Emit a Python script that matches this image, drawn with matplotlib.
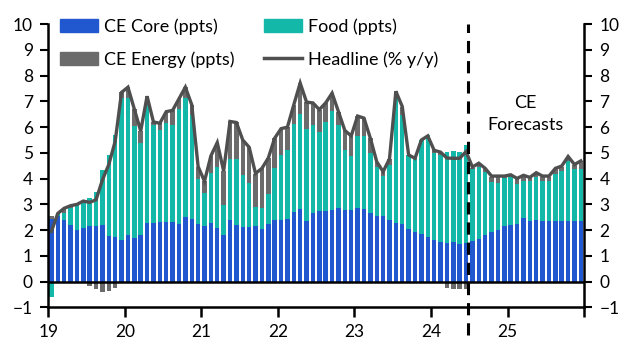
import matplotlib.pyplot as plt
from matplotlib.patches import Patch
from matplotlib.lines import Line2D
import numpy as np

plt.rcParams['font.family'] = ['Lato', 'DejaVu Sans']

# monthly, Jan 2019 - Dec 2025
year_labels = ['19', '20', '21', '22', '23', '24', '25', '']

core = [2.43, 2.56, 2.39, 2.21, 2.00, 2.08, 2.17, 2.16, 2.19, 1.78, 1.74, 1.61,
        1.80, 1.69, 1.80, 2.29, 2.29, 2.31, 2.31, 2.31, 2.23, 2.52, 2.43, 2.23,
        2.17, 2.26, 2.08, 1.80, 2.39, 2.19, 2.13, 2.13, 2.16, 2.04, 2.23, 2.39,
        2.39, 2.43, 2.70, 2.82, 2.36, 2.65, 2.73, 2.74, 2.78, 2.87, 2.78, 2.78,
        2.87, 2.82, 2.68, 2.56, 2.55, 2.39, 2.29, 2.23, 2.04, 1.94, 1.84, 1.74,
        1.61, 1.55, 1.52, 1.55, 1.48, 1.52, 1.57, 1.65, 1.83, 1.94, 2.00, 2.17,
        2.19, 2.23, 2.47, 2.35, 2.39, 2.35, 2.35, 2.35, 2.35, 2.35, 2.35, 2.35]

food = [-0.60, 0.06, 0.26, 0.67, 0.97, 1.00, 1.06, 1.31, 2.15, 3.14, 3.96, 5.52,
        5.33, 4.34, 3.60, 4.58, 3.80, 3.59, 3.85, 3.78, 4.47, 4.61, 4.05, 1.74,
        1.26, 1.95, 2.36, 1.17, 2.38, 2.58, 2.01, 1.69, 0.75, 0.83, 1.17, 2.04,
        2.53, 2.69, 3.43, 3.70, 3.56, 3.43, 3.09, 3.47, 3.86, 3.22, 2.34, 2.10,
        2.80, 2.85, 2.33, 1.91, 1.55, 2.14, 5.03, 4.25, 2.88, 2.81, 3.67, 3.96,
        3.39, 3.37, 3.53, 3.53, 3.57, 3.79, 2.81, 2.82, 2.44, 1.94, 1.84, 1.87,
        1.86, 1.56, 1.44, 1.56, 1.66, 1.56, 1.56, 1.83, 1.95, 2.35, 2.01, 2.03]

energy = [0.12, 0.03, 0.20, 0.07, 0.03, 0.05, -0.15, -0.29, -0.40, -0.36, -0.23, 0.22,
          0.42, 0.67, 0.45, 0.33, 0.11, 0.25, 0.44, 0.56, 0.40, 0.42, 0.39, 0.50,
          0.47, 0.67, 0.96, 1.33, 1.45, 1.41, 1.36, 1.40, 1.29, 1.53, 1.40, 1.14,
          1.02, 0.88, 0.74, 1.19, 1.05, 0.86, 0.86, 0.73, 0.68, 0.51, 0.75, 0.78,
          0.76, 0.68, 0.56, 0.19, 0.17, 0.24, 0.07, 0.32, 0.00, 0.04, 0.00, 0.00,
          0.10, 0.10, -0.25, -0.28, -0.28, -0.27, 0.05, 0.10, 0.10, 0.20, 0.24, 0.06,
          0.08, 0.22, 0.20, 0.12, 0.16, 0.17, 0.17, 0.20, 0.17, 0.14, 0.17, 0.30]

headline = [1.95, 2.65, 2.85, 2.95, 3.00, 3.13, 3.08, 3.18, 3.95, 4.55, 5.45, 7.35,
            7.55, 6.70, 5.85, 7.20, 6.20, 6.15, 6.60, 6.65, 7.10, 7.55, 6.87, 4.47,
            3.90, 4.88, 5.40, 4.30, 6.22, 6.18, 5.50, 5.22, 4.20, 4.40, 4.80, 5.57,
            5.94, 6.00, 6.87, 7.71, 6.97, 6.94, 6.68, 6.94, 7.32, 6.60, 5.87, 5.66,
            6.43, 6.35, 5.57, 4.66, 4.27, 4.77, 7.39, 6.80, 4.92, 4.79, 5.50, 5.66,
            5.10, 5.03, 4.80, 4.79, 4.79, 5.05, 4.45, 4.60, 4.40, 4.10, 4.10, 4.10,
            4.15, 4.01, 4.13, 4.05, 4.23, 4.10, 4.10, 4.40, 4.49, 4.86, 4.55, 4.69]

c_core = '#2157cf'
c_food = '#13b8a8'
c_energy = '#6b6b6b'
c_line = '#4f4f4f'

fig = plt.figure(figsize=(6.26, 3.49), dpi=100)
ax = fig.add_axes([0.077, 0.119, 0.856, 0.812])

n = len(core)
x = np.arange(n) + 0.5
pos_base = np.zeros(n)
neg_base = np.zeros(n)
for vals, col in [(core, c_core), (food, c_food), (energy, c_energy)]:
    v = np.array(vals)
    bottom = np.where(v >= 0, pos_base, neg_base)
    ax.bar(x, v, width=0.7, bottom=bottom, color=col, linewidth=0)
    pos_base += np.where(v >= 0, v, 0)
    neg_base += np.where(v < 0, v, 0)

ax.plot(x, headline, color=c_line, lw=2.4, solid_joinstyle='miter')
ax.axhline(0, color='black', lw=1.8)

# forecast divider
ax.plot([65.85, 65.85], [-2.05, 10], color='black', lw=2.2,
        ls=(0, (4, 2.6)), clip_on=False)
ax.text(74.8, 6.5, 'CE\nForecasts', ha='center', va='center',
        fontsize=13, linespacing=1.45)

ax.set_xlim(0, 84)
ax.set_ylim(-1, 10)
ax.set_yticks(range(-1, 11))
ax.set_xticks(range(0, 85, 12))
ax.set_xticklabels(year_labels)
ax.tick_params(axis='y', left=True, right=True, labelleft=True, labelright=True,
               direction='out', length=6, width=1.5, labelsize=12.5, pad=5)
ax.tick_params(axis='x', direction='out', length=7, width=1.8, labelsize=12.5, pad=5)
ax.spines['top'].set_visible(False)
for s in ['left', 'right', 'bottom']:
    ax.spines[s].set_linewidth(1.8)

handles = [Patch(color=c_core, label='CE Core (ppts)'),
           Patch(color=c_energy, label='CE Energy (ppts)'),
           Patch(color=c_food, label='Food (ppts)'),
           Line2D([], [], color=c_line, lw=2.5, label='Headline (% y/y)')]
ax.legend(handles=handles, ncol=2, loc='upper left', bbox_to_anchor=(0.022, 1.02),
          frameon=False, fontsize=13, handlelength=2.1, handleheight=0.75,
          labelspacing=0.9, columnspacing=1.6, handletextpad=0.35,
          borderaxespad=0, borderpad=0)

fig.savefig('out.png', dpi=100)
